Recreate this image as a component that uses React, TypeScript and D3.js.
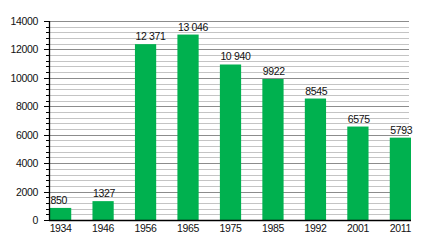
import React from "react";
import * as d3 from "d3";

const years = ["1934", "1946", "1956", "1965", "1975", "1985", "1992", "2001", "2011"];
const population = [850, 1327, 12371, 13046, 10940, 9922, 8545, 6575, 5793];
const valueLabels = ["850", "1327", "12 371", "13 046", "10 940", "9922", "8545", "6575", "5793"];
const yTicks = [0, 2000, 4000, 6000, 8000, 10000, 12000, 14000];

const W = 440;
const H = 240;
const left = 49;
const right = 411;
const top = 21;
const bottom = 220;

export default function App() {
  const x = d3.scaleBand<string>().domain(years).range([50, 411]).paddingInner(0.5).paddingOuter(0);
  const y = d3.scaleLinear().domain([0, 14000]).range([bottom, top]);
  const minor = d3.range(0, 14001, 400);
  const font = "Liberation Sans, Arial, sans-serif";
  const fs = 10.5;
  const ls = -0.35;

  return (
    <svg width={W} height={H} style={{ position: "absolute", left: 0, top: 0 }} fontFamily={font}>
      <rect width={W} height={H} fill="#fff" />
      {minor.map((v) => (
        <line
          key={"g" + v}
          x1={left}
          x2={409}
          y1={Math.round(y(v)) + 0.5}
          y2={Math.round(y(v)) + 0.5}
          stroke={v % 2000 === 0 ? "#8c8c8c" : "#c4c4c4"}
          strokeWidth={1}
        />
      ))}
      {minor.map((v) => (
        <line
          key={"t" + v}
          x1={v % 2000 === 0 ? left - 5 : left - 3}
          x2={left}
          y1={Math.round(y(v)) + 0.5}
          y2={Math.round(y(v)) + 0.5}
          stroke="#000"
          strokeWidth={1}
        />
      ))}
      {years.map((yr, i) => (
        <rect
          key={"b" + yr}
          x={x(yr)}
          y={y(population[i])}
          width={x.bandwidth()}
          height={bottom - y(population[i])}
          fill="#00b14f"
        />
      ))}
      <line x1={left + 0.5} x2={left + 0.5} y1={top} y2={bottom + 1} stroke="#000" strokeWidth={1.3} />
      <line x1={left} x2={right} y1={bottom + 0.5} y2={bottom + 0.5} stroke="#000" strokeWidth={1.3} />
      {yTicks.map((v) => (
        <text key={"yl" + v} x={38} y={y(v) + 4} textAnchor="end" fontSize={fs} letterSpacing={ls} fill="#111">
          {v}
        </text>
      ))}
      {years.map((yr) => (
        <text
          key={"xl" + yr}
          x={(x(yr) as number) + x.bandwidth() / 2}
          y={232}
          textAnchor="middle"
          fontSize={fs}
          letterSpacing={ls}
          fill="#111"
        >
          {yr}
        </text>
      ))}
      {years.map((yr, i) => (
        <text
          key={"vl" + yr}
          x={(x(yr) as number) + 0.5}
          y={y(population[i]) - 4}
          fontSize={fs}
          letterSpacing={ls}
          fill="#111"
        >
          {valueLabels[i]}
        </text>
      ))}
    </svg>
  );
}
